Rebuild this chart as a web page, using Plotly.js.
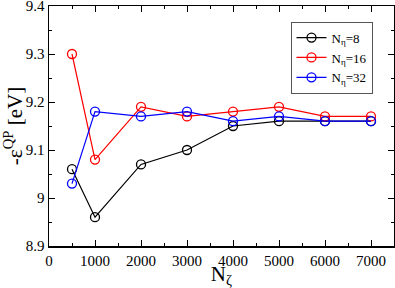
<!DOCTYPE html>
<html><head><meta charset="utf-8">
<script src="https://cdn.plot.ly/plotly-3.0.1.min.js"></script>
<style>html,body{margin:0;padding:0;background:#fff}#plot{width:395px;height:288px}</style>
</head><body><div id="plot"></div>
<script>
const nzeta = [500, 1000, 2000, 3000, 4000, 5000, 6000, 7000];
const eta8  = [9.06, 8.96, 9.07, 9.10, 9.15, 9.16, 9.16, 9.16];
const eta16 = [9.30, 9.08, 9.19, 9.17, 9.18, 9.19, 9.17, 9.17];
const eta32 = [9.03, 9.18, 9.17, 9.18, 9.16, 9.17, 9.16, 9.16];
const names = ['N<sub>η</sub>=8', 'N<sub>η</sub>=16', 'N<sub>η</sub>=32'];
const colors = ['#000000', '#ff0000', '#0000ff'];
const xTicks = [0, 1000, 2000, 3000, 4000, 5000, 6000, 7000];
const yTicks = [8.9, 9.0, 9.1, 9.2, 9.3, 9.4];
const yTickText = ['8.9', '9', '9.1', '9.2', '9.3', '9.4'];
const series = [eta8, eta16, eta32];
const font = "'Liberation Serif', 'Times New Roman', serif";
const traces = series.map((s, i) => ({
  x: nzeta, y: s, name: names[i], type: 'scatter', mode: 'lines+markers',
  line: {color: colors[i], width: 1.2},
  marker: {symbol: 'circle-open', size: 9, color: colors[i], line: {width: 1.3, color: colors[i]}}
}));
const axisCommon = {
  showline: true, linecolor: '#000', linewidth: 1.5, mirror: 'ticks',
  ticks: 'inside', ticklen: 6, tickwidth: 1, tickcolor: '#000',
  showgrid: false, zeroline: false, ticklabeloverflow: 'allow',
  tickfont: {family: font, size: 15, color: '#000'}
};
const layout = {
  width: 395, height: 288,
  margin: {l: 49, r: 1, t: 6, b: 42},
  paper_bgcolor: '#fff', plot_bgcolor: '#fff',
  showlegend: true,
  xaxis: Object.assign({}, axisCommon, {
    range: [0, 7500], tickvals: xTicks,
    minor: {ticks: 'inside', dtick: 500, ticklen: 3, tickcolor: '#000', tickwidth: 1},
    title: {text: 'N<sub>ζ</sub>', font: {family: font, size: 21, color: '#000'}, standoff: 2}
  }),
  yaxis: Object.assign({}, axisCommon, {
    range: [8.9, 9.4], tickvals: yTicks, ticktext: yTickText,
    minor: {ticks: 'inside', dtick: 0.05, ticklen: 3, tickcolor: '#000', tickwidth: 1},
    title: {text: '-ε<sup>QP</sup> [eV]', font: {family: font, size: 21, color: '#000'}, standoff: 4}
  }),
  legend: {x: 0.70, y: 0.935, xanchor: 'left', yanchor: 'top', bgcolor: '#fff',
    bordercolor: '#555', borderwidth: 1, font: {family: font, size: 13, color: '#000'},
    tracegroupgap: 0, itemwidth: 30}
};
Plotly.newPlot('plot', traces, layout, {displayModeBar: false, staticPlot: true});
</script></body></html>
